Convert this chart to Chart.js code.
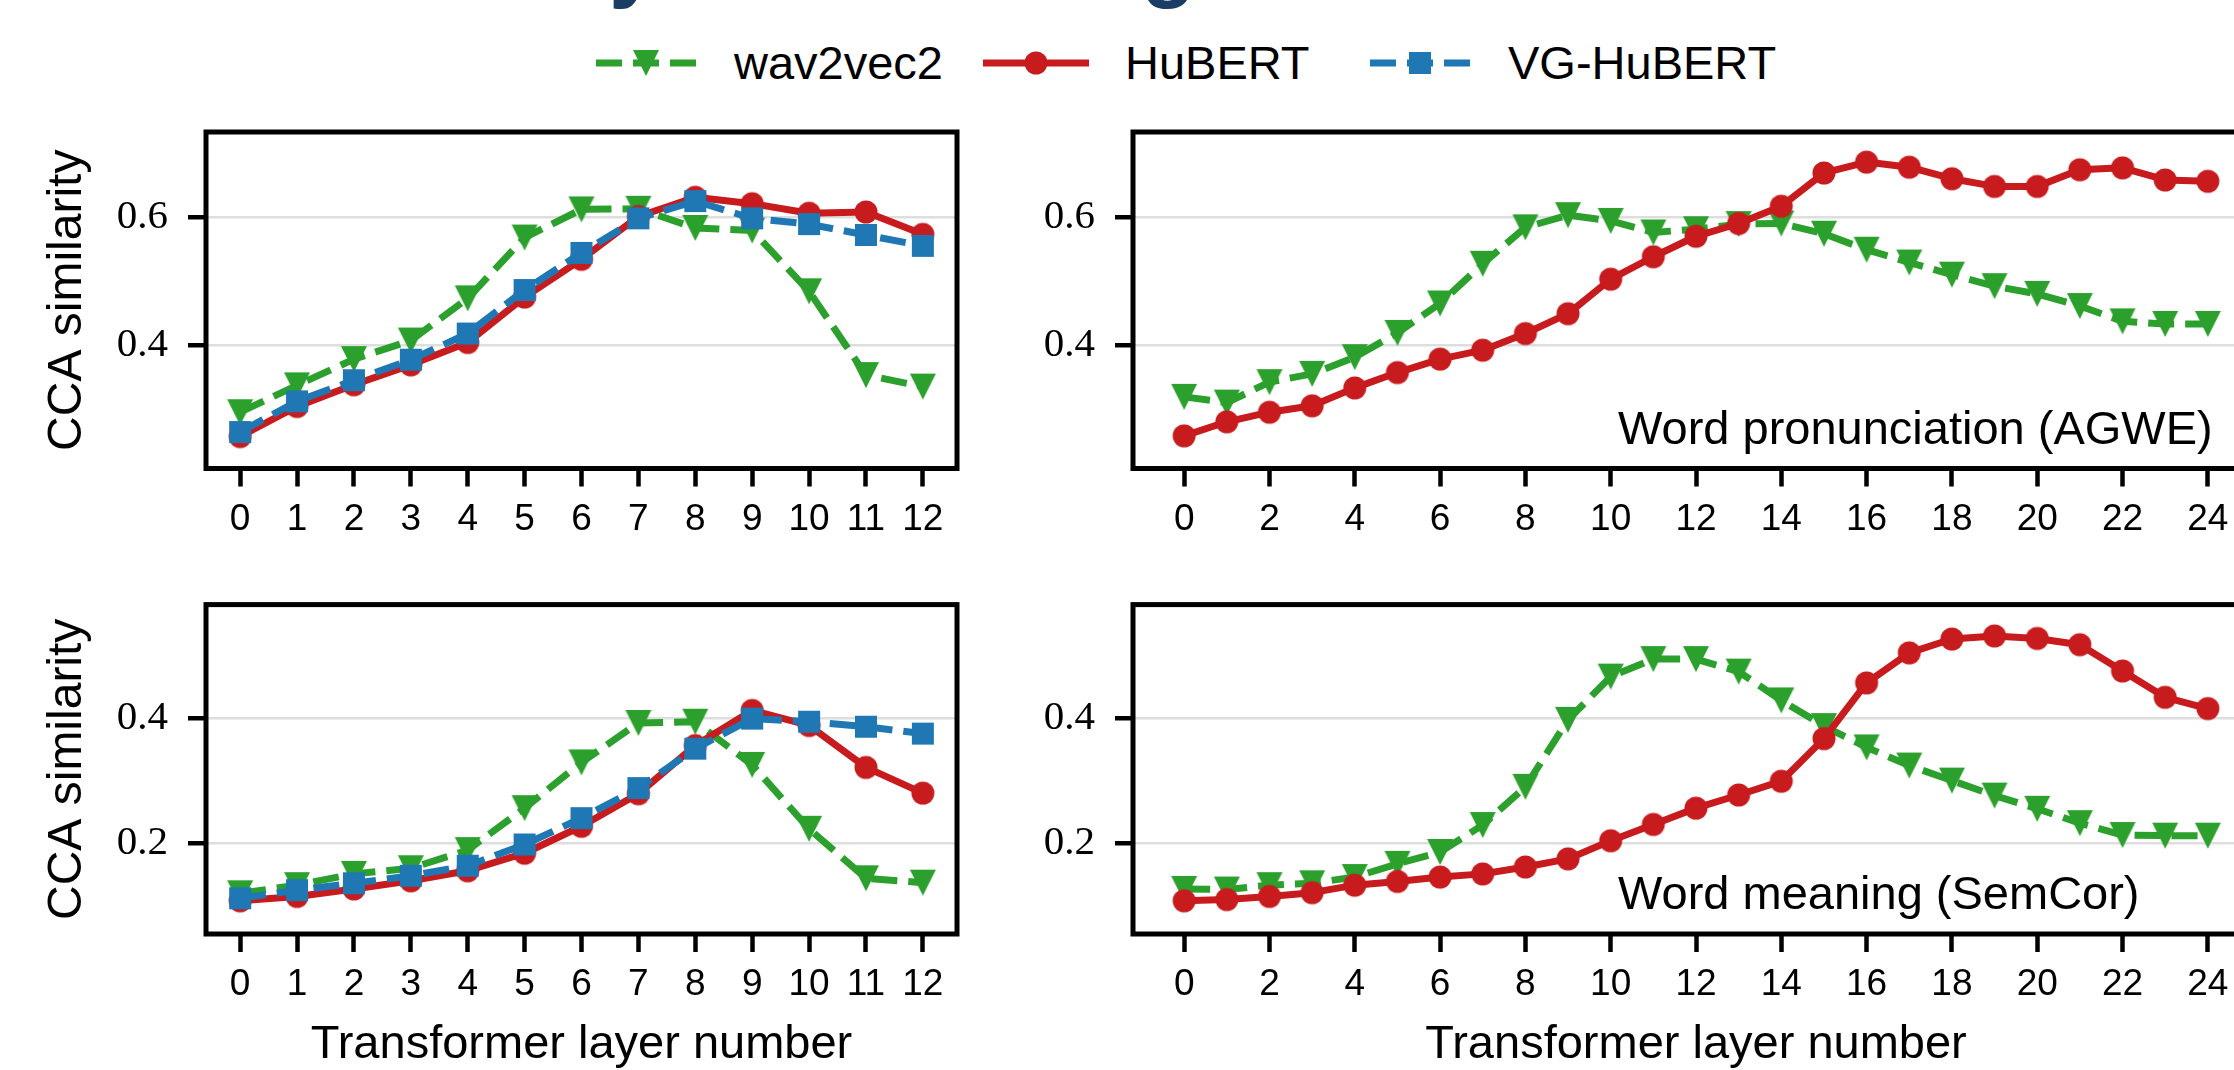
<!DOCTYPE html>
<html>
<head>
<meta charset="utf-8">
<script src="https://cdn.jsdelivr.net/npm/chart.js@4.4.1/dist/chart.umd.min.js"></script>
<style>
  html, body { margin: 0; padding: 0; background: #fff; }
  body { width: 2234px; height: 1070px; overflow: hidden; position: relative; font-family: "Liberation Sans", Arial, sans-serif; }
  .panel { position: absolute; }
  .title-bit { position: absolute; top: -86px; font: bold 90px "Liberation Sans", Arial, sans-serif; line-height: 1; color: #1a3d66; }
  .leg-handle { position: absolute; top: 43px; }
  .leg-text { position: absolute; top: 38px; font-size: 47px; line-height: 50px; color: #000; white-space: nowrap; }
</style>
</head>
<body>
<span class="title-bit" style="left:609px">y</span>
<span class="title-bit" style="left:1141px">g</span>

<canvas class="leg-handle" id="legW2v" width="100" height="40" style="left:596px"></canvas>
<span class="leg-text" style="left:734px">wav2vec2</span>
<canvas class="leg-handle" id="legHubert" width="106" height="40" style="left:983px"></canvas>
<span class="leg-text" style="left:1125px">HuBERT</span>
<canvas class="leg-handle" id="legVg" width="100" height="40" style="left:1370px"></canvas>
<span class="leg-text" style="left:1508px">VG-HuBERT</span>

<div class="panel" id="boxTL"><canvas id="chartTL"></canvas></div>
<div class="panel" id="boxTR"><canvas id="chartTR"></canvas></div>
<div class="panel" id="boxBL"><canvas id="chartBL"></canvas></div>
<div class="panel" id="boxBR"><canvas id="chartBR"></canvas></div>

<script>
// layer indices
const layersBase = [0, 1, 2, 3, 4, 5, 6, 7, 8, 9, 10, 11, 12];
const layersLarge = [0, 1, 2, 3, 4, 5, 6, 7, 8, 9, 10, 11, 12, 13, 14, 15, 16, 17, 18, 19, 20, 21, 22, 23, 24];
const xTicksLarge = [0, 2, 4, 6, 8, 10, 12, 14, 16, 18, 20, 22, 24];
const yTicksPron = [0.4, 0.6];
const yTicksMeaning = [0.2, 0.4];

// word pronunciation (AGWE), base models
const pronBaseWav2vec2 = [0.296, 0.338, 0.379, 0.408, 0.474, 0.569, 0.613, 0.614, 0.584, 0.580, 0.485, 0.354, 0.336];
const pronBaseHubert = [0.258, 0.305, 0.339, 0.370, 0.405, 0.476, 0.535, 0.602, 0.632, 0.622, 0.607, 0.609, 0.574];
const pronBaseVgHubert = [0.265, 0.313, 0.346, 0.378, 0.419, 0.487, 0.545, 0.599, 0.626, 0.599, 0.590, 0.573, 0.556];

// word pronunciation (AGWE), large models
const pronLargeWav2vec2 = [0.320, 0.311, 0.343, 0.356, 0.382, 0.420, 0.466, 0.528, 0.585, 0.604, 0.595, 0.577, 0.582, 0.590, 0.591, 0.575, 0.550, 0.530, 0.511, 0.493, 0.481, 0.462, 0.438, 0.434, 0.434];
const pronLargeHubert = [0.259, 0.281, 0.296, 0.306, 0.334, 0.358, 0.379, 0.393, 0.419, 0.450, 0.504, 0.539, 0.571, 0.591, 0.618, 0.670, 0.687, 0.679, 0.661, 0.649, 0.649, 0.675, 0.678, 0.659, 0.657];

// word meaning (SemCor), base models
const meanBaseWav2vec2 = [0.120, 0.133, 0.151, 0.160, 0.189, 0.256, 0.329, 0.392, 0.394, 0.325, 0.223, 0.144, 0.137];
const meanBaseHubert = [0.108, 0.115, 0.127, 0.140, 0.156, 0.184, 0.227, 0.279, 0.356, 0.412, 0.388, 0.321, 0.280];
const meanBaseVgHubert = [0.112, 0.125, 0.136, 0.148, 0.164, 0.198, 0.240, 0.288, 0.351, 0.399, 0.394, 0.386, 0.375];

// word meaning (SemCor), large models
const meanLargeWav2vec2 = [0.127, 0.126, 0.133, 0.136, 0.146, 0.167, 0.186, 0.229, 0.290, 0.397, 0.466, 0.494, 0.494, 0.474, 0.428, 0.387, 0.353, 0.324, 0.300, 0.276, 0.255, 0.232, 0.213, 0.212, 0.212];
const meanLargeHubert = [0.108, 0.110, 0.115, 0.121, 0.133, 0.139, 0.146, 0.151, 0.162, 0.175, 0.204, 0.230, 0.256, 0.277, 0.299, 0.367, 0.456, 0.504, 0.526, 0.531, 0.527, 0.517, 0.475, 0.433, 0.415];

const GREEN = "#2ca02c";
const RED = "#c81b1e";
const BLUE = "#1f77b4";
const DASH = [26, 11];
const LINE_W = 7;

function markerImage(shape, color) {
  const c = document.createElement("canvas");
  c.width = 30;
  c.height = 30;
  const ctx = c.getContext("2d");
  ctx.fillStyle = color;
  ctx.beginPath();
  if (shape === "tri") {
    ctx.moveTo(15 - 13, 15 - 13);
    ctx.lineTo(15 + 13, 15 - 13);
    ctx.lineTo(15, 15 + 13);
    ctx.closePath();
  } else if (shape === "circle") {
    ctx.arc(15, 15, 11.5, 0, Math.PI * 2);
  } else {
    ctx.rect(4, 4, 22, 22);
  }
  ctx.fill();
  return c;
}

const MARK_TRI = markerImage("tri", GREEN);
const MARK_CIRCLE = markerImage("circle", RED);
const MARK_SQUARE = markerImage("square", BLUE);

function drawHandle(id, color, dash, marker) {
  const c = document.getElementById(id);
  const ctx = c.getContext("2d");
  ctx.strokeStyle = color;
  ctx.lineWidth = LINE_W;
  ctx.setLineDash(dash);
  ctx.beginPath();
  ctx.moveTo(0, 20);
  ctx.lineTo(c.width, 20);
  ctx.stroke();
  ctx.drawImage(marker, c.width / 2 - 15, 20 - 15);
}

drawHandle("legW2v", GREEN, DASH, MARK_TRI);
drawHandle("legHubert", RED, [], MARK_CIRCLE);
drawHandle("legVg", BLUE, DASH, MARK_SQUARE);

function series(label, data, color, dash, marker, order) {
  return {
    label,
    data,
    borderColor: color,
    backgroundColor: color,
    borderWidth: LINE_W,
    borderDash: dash,
    borderJoinStyle: "round",
    tension: 0,
    pointStyle: marker,
    pointRadius: 12,
    pointHoverRadius: 12,
    order,
    clip: false,
  };
}

const framePlugin = {
  id: "frame",
  afterDatasetsDraw(chart, args, opts) {
    const { ctx, chartArea: a } = chart;
    ctx.save();
    ctx.strokeStyle = "#000";
    ctx.lineWidth = 5;
    ctx.strokeRect(a.left, a.top, a.right - a.left, a.bottom - a.top);
    if (opts.note) {
      ctx.fillStyle = "#000";
      ctx.font = '47px "Liberation Sans", Arial, sans-serif';
      ctx.textAlign = "left";
      ctx.textBaseline = "alphabetic";
      ctx.fillText(opts.note, opts.noteX - chart.canvas.offsetParent.offsetLeft, a.bottom - 25);
    }
    ctx.restore();
  },
};

function buildPanel(boxId, canvasId, cfg) {
  const box = document.getElementById(boxId);
  box.style.left = cfg.x0 + "px";
  box.style.top = cfg.y0 + "px";
  box.style.width = cfg.w + "px";
  box.style.height = cfg.h + "px";
  const area = cfg.area;
  const span = cfg.labels[cfg.labels.length - 1] - cfg.labels[0];

  new Chart(document.getElementById(canvasId), {
    type: "line",
    data: { labels: cfg.labels, datasets: cfg.datasets },
    options: {
      responsive: true,
      maintainAspectRatio: false,
      devicePixelRatio: 1,
      animation: false,
      events: [],
      layout: {
        autoPadding: false,
        padding: { left: 0, top: area.top - cfg.y0, right: cfg.x0 + cfg.w - area.right, bottom: 0 },
      },
      plugins: {
        legend: { display: false },
        tooltip: { enabled: false },
        frame: { note: cfg.note, noteX: 1618 },
      },
      scales: {
        x: {
          type: "linear",
          min: cfg.labels[0] - span * 0.05,
          max: cfg.labels[cfg.labels.length - 1] + span * 0.05,
          afterBuildTicks: (s) => { s.ticks = cfg.xTicks.map((v) => ({ value: v })); },
          afterFit: (s) => { s.height = cfg.y0 + cfg.h - area.bottom; },
          ticks: {
            autoSkip: false,
            maxRotation: 0,
            padding: 11,
            color: "#000",
            font: { family: '"Liberation Sans", Arial, sans-serif', size: 37 },
            callback: (v) => String(v),
          },
          grid: { drawOnChartArea: false, drawTicks: true, tickLength: 18, tickWidth: 4.5, tickColor: "#000" },
          border: { display: false },
          title: {
            display: !!cfg.xTitle,
            text: cfg.xTitle || "",
            color: "#000",
            font: { family: '"Liberation Sans", Arial, sans-serif', size: 47 },
            padding: { top: 0, bottom: 7 },
          },
        },
        y: {
          min: cfg.yMin,
          max: cfg.yMax,
          afterBuildTicks: (s) => { s.ticks = cfg.yTicks.map((v) => ({ value: v })); },
          afterFit: (s) => { s.width = area.left - cfg.x0; },
          ticks: {
            padding: 20,
            color: "#000",
            font: { family: '"Liberation Serif", "Times New Roman", serif', size: 41 },
            callback: (v) => v.toFixed(1),
          },
          grid: { color: "#dedede", lineWidth: 2.5, drawTicks: true, tickLength: 18, tickWidth: 4.5, tickColor: "#000" },
          border: { display: false },
          title: {
            display: !!cfg.yTitle,
            text: cfg.yTitle || "",
            color: "#000",
            font: { family: '"Liberation Sans", Arial, sans-serif', size: 48 },
            padding: { top: 39, bottom: 0 },
          },
        },
      },
    },
    plugins: [framePlugin],
  });
}

const W2V = (d) => series("wav2vec2", d, GREEN, DASH, MARK_TRI, 3);
const HUB = (d) => series("HuBERT", d, RED, [], MARK_CIRCLE, 2);
const VGH = (d) => series("VG-HuBERT", d, BLUE, DASH, MARK_SQUARE, 1);

buildPanel("boxTL", "chartTL", {
  x0: 0, y0: 0, w: 1000, h: 560,
  area: { left: 206, top: 132, right: 957, bottom: 468.5 },
  labels: layersBase, xTicks: layersBase,
  yMin: 0.208, yMax: 0.734, yTicks: yTicksPron,
  yTitle: "CCA similarity",
  datasets: [W2V(pronBaseWav2vec2), HUB(pronBaseHubert), VGH(pronBaseVgHubert)],
});

buildPanel("boxTR", "chartTR", {
  x0: 1000, y0: 0, w: 1300, h: 560,
  area: { left: 1133, top: 132, right: 2259, bottom: 468.5 },
  labels: layersLarge, xTicks: xTicksLarge,
  yMin: 0.208, yMax: 0.734, yTicks: yTicksPron,
  note: "Word pronunciation (AGWE)",
  datasets: [W2V(pronLargeWav2vec2), HUB(pronLargeHubert)],
});

buildPanel("boxBL", "chartBL", {
  x0: 0, y0: 560, w: 1000, h: 520,
  area: { left: 206, top: 601, right: 957, bottom: 934 },
  labels: layersBase, xTicks: layersBase,
  yMin: 0.055, yMax: 0.581, yTicks: yTicksMeaning,
  yTitle: "CCA similarity", xTitle: "Transformer layer number",
  datasets: [W2V(meanBaseWav2vec2), HUB(meanBaseHubert), VGH(meanBaseVgHubert)],
});

buildPanel("boxBR", "chartBR", {
  x0: 1000, y0: 560, w: 1300, h: 520,
  area: { left: 1133, top: 601, right: 2259, bottom: 934 },
  labels: layersLarge, xTicks: xTicksLarge,
  yMin: 0.055, yMax: 0.581, yTicks: yTicksMeaning,
  xTitle: "Transformer layer number",
  note: "Word meaning (SemCor)",
  datasets: [W2V(meanLargeWav2vec2), HUB(meanLargeHubert)],
});
</script>
</body>
</html>
